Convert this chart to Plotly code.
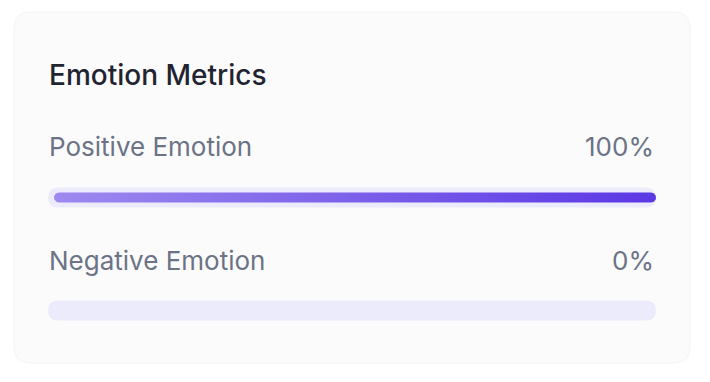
import numpy as np
import plotly.graph_objects as go

# ---- data ----
title_text = "Emotion Metrics"
metrics = ["Positive Emotion", "Negative Emotion"]
values = [100, 0]
value_max = 100

# ---- layout constants (pixels) ----
W, H = 710, 382
card = dict(x0=14, y0=12, x1=690, y1=363, r=16)
track_x0, track_x1 = 48, 656
fill_x0 = 54
track_h = 20
fill_h = 10
row_label_y = [146.5, 260.5]
row_track_y = [197.5, 310.5]
title_y = 74.5

px_per_unit = (track_x1 - fill_x0) / value_max


def rounded_rect_path(x0, y0, x1, y1, r):
    return (f"M {x0+r},{y0} L {x1-r},{y0} Q {x1},{y0} {x1},{y0+r} "
            f"L {x1},{y1-r} Q {x1},{y1} {x1-r},{y1} L {x0+r},{y1} "
            f"Q {x0},{y1} {x0},{y1-r} L {x0},{y0+r} Q {x0},{y0} {x0+r},{y0} Z")


def rounded_bar(v, yc, h):
    """Rounded bar polygon in data-x units / pixel-y units."""
    ry = h / 2.0
    rx = ry / px_per_unit
    t1 = np.linspace(np.pi / 2, 3 * np.pi / 2, 24)
    t2 = np.linspace(-np.pi / 2, np.pi / 2, 24)
    xs_l = rx + rx * np.cos(t1)
    ys_l = yc - ry * np.sin(t1)
    xs_r = (v - rx) + rx * np.cos(t2)
    ys_r = yc - ry * np.sin(t2)
    xs = np.concatenate([xs_l, xs_r, [xs_l[0]]])
    ys = np.concatenate([ys_l, ys_r, [ys_l[0]]])
    return xs, ys


fig = go.Figure()

shapes = [
    dict(type="path", xref="x", yref="y",
         path=rounded_rect_path(card["x0"], card["y0"], card["x1"], card["y1"], card["r"]),
         fillcolor="#fbfbfc", line=dict(color="#f4f4f6", width=1), layer="below"),
]
for yc in row_track_y:
    shapes.append(dict(type="path", xref="x", yref="y",
                       path=rounded_rect_path(track_x0, yc - track_h / 2, track_x1, yc + track_h / 2, track_h / 2),
                       fillcolor="#ecebfc", line=dict(width=0), layer="below"))

# invisible trace to activate the pixel axis
fig.add_trace(go.Scatter(x=[0], y=[0], xaxis="x", yaxis="y", mode="markers",
                         marker=dict(opacity=0), hoverinfo="skip", showlegend=False))

for name, v, yc in zip(metrics, values, row_track_y):
    if v > 0:
        xs, ys = rounded_bar(v, yc, fill_h)
        fig.add_trace(go.Scatter(
            x=xs, y=ys, xaxis="x2", yaxis="y", mode="lines", fill="toself",
            line=dict(width=0, color="rgba(0,0,0,0)"),
            fillgradient=dict(type="horizontal",
                              colorscale=[[0, "#9d89ef"], [1, "#5b37e5"]]),
            hoverinfo="skip", showlegend=False, name=name))

annotations = [
    dict(text=title_text, xref="x", yref="y", x=47, y=title_y, xanchor="left", yanchor="middle",
         showarrow=False, font=dict(family="Inter", size=28, color="#1f2430", weight=500)),
]
for name, v, ly in zip(metrics, values, row_label_y):
    annotations.append(dict(text=name, xref="x", yref="y", x=47, y=ly, xanchor="left", yanchor="middle",
                            showarrow=False, font=dict(family="Inter", size=26, color="#6b7385")))
    annotations.append(dict(text=f"{v}%", xref="x", yref="y", x=656, y=ly, xanchor="right", yanchor="middle",
                            showarrow=False, font=dict(family="Inter", size=26, color="#6b7385")))

fig.update_layout(
    width=W, height=H,
    margin=dict(l=0, r=0, t=0, b=0),
    paper_bgcolor="#ffffff", plot_bgcolor="rgba(0,0,0,0)",
    xaxis=dict(domain=[0, 1], range=[0, W], visible=False, fixedrange=True),
    xaxis2=dict(domain=[fill_x0 / W, track_x1 / W], range=[0, value_max], visible=False,
                anchor="y", fixedrange=True),
    yaxis=dict(domain=[0, 1], range=[H, 0], visible=False, fixedrange=True),
    shapes=shapes, annotations=annotations, showlegend=False,
)

fig.write_html("out.html", config={"displayModeBar": False},
               post_script="document.body.style.margin='0';")
